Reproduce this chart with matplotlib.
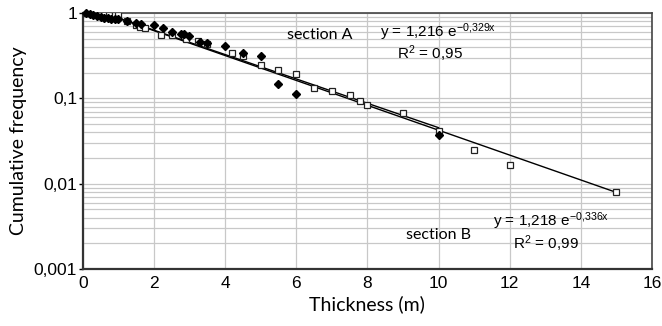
import matplotlib.pyplot as plt
import numpy as np
from matplotlib.ticker import FixedLocator, FixedFormatter, LogLocator, NullFormatter

tick_font = 'Liberation Sans'
plt.rcParams['mathtext.fontset'] = 'custom'
plt.rcParams['mathtext.rm'] = tick_font
plt.rcParams['mathtext.it'] = tick_font

# section A (filled diamonds)
xa = [0.1, 0.2, 0.3, 0.4, 0.5, 0.6, 0.7, 0.8, 0.9, 1.0, 1.25, 1.5, 1.65, 2.0, 2.25, 2.5,
      2.75, 2.85, 3.0, 3.3, 3.5, 4.0, 4.5, 5.0, 5.5, 6.0, 10.0]
ya = [1.0, 0.98, 0.95, 0.92, 0.9, 0.88, 0.87, 0.86, 0.86, 0.85, 0.8, 0.76, 0.75, 0.72, 0.67, 0.6,
      0.57, 0.57, 0.54, 0.46, 0.45, 0.41, 0.34, 0.315, 0.147, 0.112, 0.037]

# section B (open squares)
xb = [0.1, 0.2, 0.3, 0.5, 0.6, 0.75, 0.9, 1.0, 1.25, 1.5, 1.6, 1.75, 2.2, 2.5, 2.9, 3.25, 3.5,
      4.2, 4.5, 5.0, 5.5, 6.0, 6.5, 7.0, 7.5, 7.8, 8.0, 9.0, 10.0, 11.0, 12.0, 15.0]
yb = [1.0, 0.99, 0.98, 0.97, 0.97, 0.96, 0.96, 0.95, 0.8, 0.73, 0.69, 0.66, 0.56, 0.55, 0.5, 0.47, 0.43,
      0.34, 0.31, 0.246, 0.215, 0.193, 0.131, 0.123, 0.109, 0.094, 0.083, 0.067, 0.041, 0.0248, 0.0166, 0.008]

# exponential fits
fit_a = (1.216, -0.329)
fit_b = (1.218, -0.336)

yticks = [1, 0.1, 0.01, 0.001]
ytick_labels = ['1', '0,1', '0,01', '0,001']
xticks = [0, 2, 4, 6, 8, 10, 12, 14, 16]

fig = plt.figure(figsize=(6.62, 3.26), dpi=100)
ax = fig.add_axes([0.125, 0.175, 0.86, 0.785])

ax.set_yscale('log')
ax.set_xlim(0, 16)
ax.set_ylim(0.001, 1)

# trend lines
xl = np.linspace(0, 10, 200)
ax.plot(xl, fit_a[0] * np.exp(fit_a[1] * xl), color='black', lw=1.0, zorder=3)
xl = np.linspace(0, 15, 200)
ax.plot(xl, fit_b[0] * np.exp(fit_b[1] * xl), color='black', lw=1.0, zorder=3)

ax.plot(xb, yb, ls='none', marker='s', ms=5, mfc='white', mec='#222222', mew=0.9, zorder=4)
ax.plot(xa, ya, ls='none', marker='D', ms=4, mfc='black', mec='black', zorder=5, clip_on=False)

# grid
ax.yaxis.set_major_locator(FixedLocator(yticks))
ax.yaxis.set_major_formatter(FixedFormatter(ytick_labels))
ax.yaxis.set_minor_locator(LogLocator(base=10, subs=np.arange(2, 10)))
ax.yaxis.set_minor_formatter(NullFormatter())
ax.xaxis.set_major_locator(FixedLocator(xticks))
ax.grid(True, which='major', color='#c8c8c8', lw=0.9)
ax.grid(True, which='minor', axis='y', color='#c8c8c8', lw=0.9)
ax.set_axisbelow(True)

for s in ['left', 'bottom']:
    ax.spines[s].set_color('#333333')
    ax.spines[s].set_linewidth(1.6)
for s in ['top', 'right']:
    ax.spines[s].set_color('#444444')
    ax.spines[s].set_linewidth(1.2)

ax.tick_params(axis='y', which='major', length=3, width=1, direction='out', pad=1)
ax.tick_params(axis='y', which='minor', length=0)
ax.tick_params(axis='x', length=0, pad=5)
for lab in ax.get_xticklabels() + ax.get_yticklabels():
    lab.set_fontfamily(tick_font)
    lab.set_fontsize(12.5)

ax.set_xlabel('Thickness (m)', fontfamily='Lato', fontsize=14, labelpad=3)
ax.set_ylabel('Cumulative frequency', fontfamily='Lato', fontsize=14, labelpad=5)

# annotations
ax.text(6.65, 0.56, 'section A', fontfamily='Lato', fontsize=11.5, ha='center', va='center')
ax.text(8.35, 0.59, 'y = 1,216 e$^{\\mathrm{-0{,}329x}}$', fontfamily=tick_font, fontsize=11,
        ha='left', va='center')
ax.text(8.83, 0.33, 'R$^{\\mathrm{2}}$ = 0,95', fontfamily=tick_font, fontsize=11, ha='left', va='center')
ax.text(10.0, 0.0025, 'section B', fontfamily='Lato', fontsize=11.5, ha='center', va='center')
ax.text(11.53, 0.0036, 'y = 1,218 e$^{\\mathrm{-0{,}336x}}$', fontfamily=tick_font, fontsize=11,
        ha='left', va='center')
ax.text(12.1, 0.0020, 'R$^{\\mathrm{2}}$ = 0,99', fontfamily=tick_font, fontsize=11, ha='left', va='center')

fig.savefig('out.png', dpi=100)
